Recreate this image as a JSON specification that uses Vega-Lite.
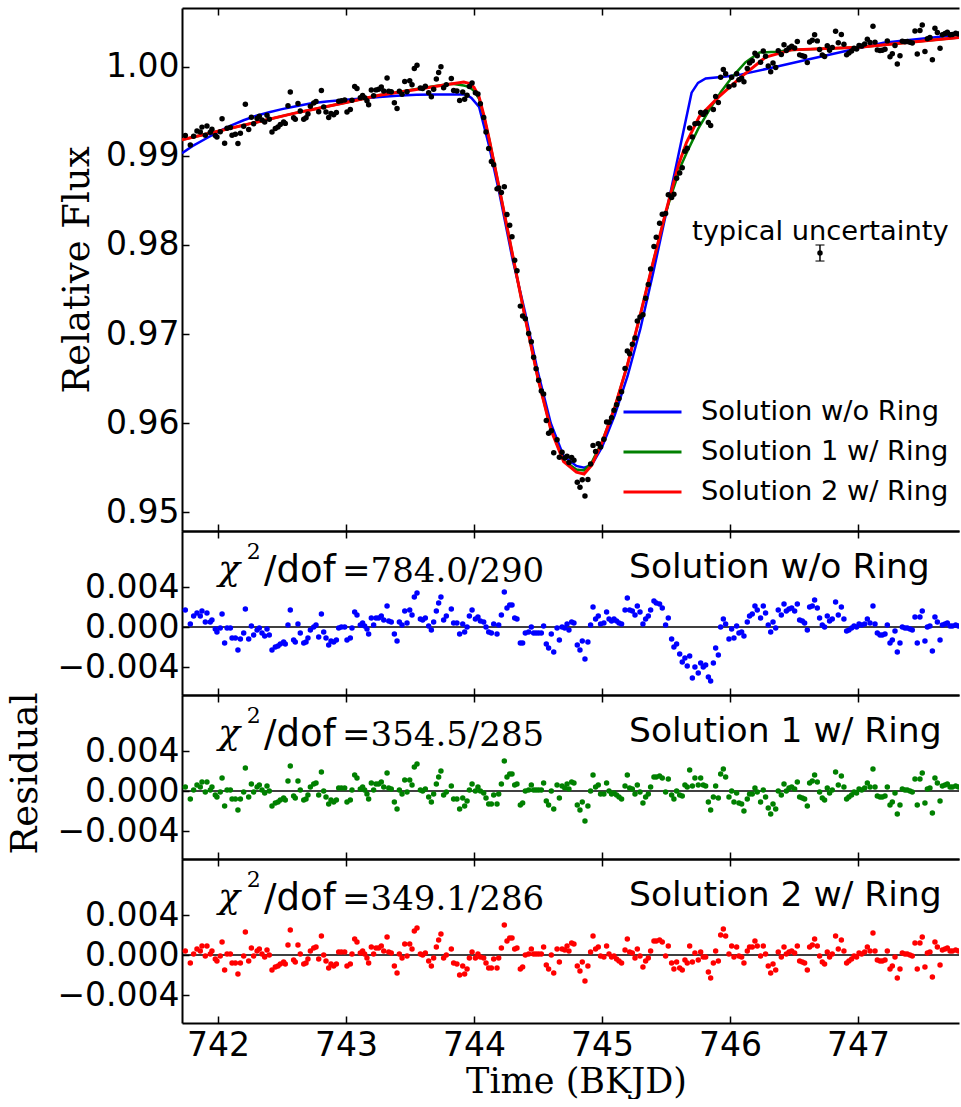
{
  "$schema": "https://vega.github.io/schema/vega-lite/v6.json",
  "background": "white",
  "padding": {"left": 6, "top": 7, "right": 0, "bottom": 0},
  "spacing": 0,
  "bounds": "flush",
  "config": {
    "view": {"stroke": null},
    "axis": {
      "domain": true, "domainColor": "black", "domainWidth": 2,
      "grid": false,
      "tickColor": "black", "tickWidth": 1.5, "tickSize": -7,
      "labelFont": "DejaVu Sans", "labelFontSize": 33, "labelColor": "black",
      "titleFont": "DejaVu Serif", "titleFontSize": 37, "titleFontWeight": "normal", "titleColor": "black"
    }
  },
  "datasets": {
    "obs": [
      {"t":741.745,"f":0.99229,"r0":0.0017,"r1":0.0004,"r2":0.0004},
      {"t":741.784,"f":0.99122,"r0":0.0003,"r1":-0.0008,"r2":-0.0008},
      {"t":741.81,"f":0.99221,"r0":0.0011,"r1":0.0001,"r2":0.0001},
      {"t":741.836,"f":0.9928,"r0":0.0014,"r1":0.0006,"r2":0.0006},
      {"t":741.862,"f":0.99268,"r0":0.0011,"r1":0.0004,"r2":0.0004},
      {"t":741.875,"f":0.99323,"r0":0.0016,"r1":0.0009,"r2":0.0009},
      {"t":741.901,"f":0.99232,"r0":0.0005,"r1":-0.0001,"r2":-0.0001},
      {"t":741.914,"f":0.99336,"r0":0.0014,"r1":0.0009,"r2":0.0009},
      {"t":741.94,"f":0.99265,"r0":0.0005,"r1":0.0001,"r2":0.0001},
      {"t":741.953,"f":0.99299,"r0":0.0007,"r1":0.0004,"r2":0.0004},
      {"t":741.979,"f":0.99228,"r0":-0.0002,"r1":-0.0004,"r2":-0.0004},
      {"t":741.992,"f":0.99213,"r0":-0.0005,"r1":-0.0006,"r2":-0.0006},
      {"t":742.018,"f":0.99272,"r0":-0.0001,"r1":-0.0001,"r2":-0.0001},
      {"t":742.032,"f":0.99416,"r0":0.0013,"r1":0.0013,"r2":0.0013},
      {"t":742.052,"f":0.99143,"r0":-0.0016,"r1":-0.0015,"r2":-0.0015},
      {"t":742.071,"f":0.9931,"r0":-0.0001,"r1":0.0001,"r2":0.0001},
      {"t":742.097,"f":0.99319,"r0":-0.0001,"r1":0.0001,"r2":0.0001},
      {"t":742.11,"f":0.99233,"r0":-0.0011,"r1":-0.0008,"r2":-0.0008},
      {"t":742.136,"f":0.99242,"r0":-0.0011,"r1":-0.0008,"r2":-0.0008},
      {"t":742.156,"f":0.99139,"r0":-0.0023,"r1":-0.0019,"r2":-0.0019},
      {"t":742.175,"f":0.99255,"r0":-0.0012,"r1":-0.0008,"r2":-0.0008},
      {"t":742.201,"f":0.99334,"r0":-0.0006,"r1":-0.0001,"r2":-0.0001},
      {"t":742.214,"f":0.99579,"r0":0.0018,"r1":0.0023,"r2":0.0023},
      {"t":742.24,"f":0.99297,"r0":-0.0012,"r1":-0.0006,"r2":-0.0006},
      {"t":742.261,"f":0.99434,"r0":0.0001,"r1":0.0007,"r2":0.0007},
      {"t":742.279,"f":0.99361,"r0":-0.0008,"r1":-0.0001,"r2":-0.0001},
      {"t":742.305,"f":0.99419,"r0":-0.0003,"r1":0.0004,"r2":0.0004},
      {"t":742.323,"f":0.99446,"r0":-0.0001,"r1":0.0006,"r2":0.0006},
      {"t":742.344,"f":0.99403,"r0":-0.0006,"r1":0.0001,"r2":0.0001},
      {"t":742.365,"f":0.9938,"r0":-0.0009,"r1":-0.0002,"r2":-0.0002},
      {"t":742.383,"f":0.99456,"r0":-0.0002,"r1":0.0005,"r2":0.0005},
      {"t":742.401,"f":0.99412,"r0":-0.0008,"r1":0.0,"r2":0.0},
      {"t":742.422,"f":0.99269,"r0":-0.0023,"r1":-0.0015,"r2":-0.0015},
      {"t":742.448,"f":0.99308,"r0":-0.002,"r1":-0.0012,"r2":-0.0012},
      {"t":742.469,"f":0.99325,"r0":-0.0019,"r1":-0.0011,"r2":-0.0011},
      {"t":742.487,"f":0.99352,"r0":-0.0017,"r1":-0.0009,"r2":-0.0009},
      {"t":742.513,"f":0.9938,"r0":-0.0015,"r1":-0.0007,"r2":-0.0007},
      {"t":742.526,"f":0.99365,"r0":-0.0017,"r1":-0.0009,"r2":-0.0009},
      {"t":742.547,"f":0.99562,"r0":0.0002,"r1":0.001,"r2":0.001},
      {"t":742.565,"f":0.99718,"r0":0.0017,"r1":0.0025,"r2":0.0025},
      {"t":742.591,"f":0.99427,"r0":-0.0013,"r1":-0.0005,"r2":-0.0005},
      {"t":742.604,"f":0.99411,"r0":-0.0015,"r1":-0.0007,"r2":-0.0007},
      {"t":742.625,"f":0.99588,"r0":0.0003,"r1":0.001,"r2":0.001},
      {"t":742.643,"f":0.99503,"r0":-0.0006,"r1":0.0001,"r2":0.0001},
      {"t":742.67,"f":0.99411,"r0":-0.0016,"r1":-0.0009,"r2":-0.0009},
      {"t":742.688,"f":0.99427,"r0":-0.0015,"r1":-0.0008,"r2":-0.0008},
      {"t":742.703,"f":0.99471,"r0":-0.0011,"r1":-0.0004,"r2":-0.0004},
      {"t":742.722,"f":0.99557,"r0":-0.0003,"r1":0.0004,"r2":0.0004},
      {"t":742.748,"f":0.99595,"r0":0.0,"r1":0.0007,"r2":0.0007},
      {"t":742.766,"f":0.9961,"r0":0.0002,"r1":0.0008,"r2":0.0008},
      {"t":742.787,"f":0.99496,"r0":-0.001,"r1":-0.0004,"r2":-0.0004},
      {"t":742.808,"f":0.99733,"r0":0.0013,"r1":0.0019,"r2":0.0019},
      {"t":742.826,"f":0.99548,"r0":-0.0005,"r1":0.0,"r2":0.0},
      {"t":742.844,"f":0.99493,"r0":-0.0011,"r1":-0.0006,"r2":-0.0006},
      {"t":742.865,"f":0.9943,"r0":-0.0018,"r1":-0.0013,"r2":-0.0013},
      {"t":742.883,"f":0.99475,"r0":-0.0014,"r1":-0.0009,"r2":-0.0009},
      {"t":742.904,"f":0.99461,"r0":-0.0015,"r1":-0.0011,"r2":-0.0011},
      {"t":742.925,"f":0.99487,"r0":-0.0013,"r1":-0.0009,"r2":-0.0009},
      {"t":742.943,"f":0.99613,"r0":-0.0001,"r1":0.0003,"r2":0.0003},
      {"t":742.964,"f":0.99619,"r0":0.0,"r1":0.0003,"r2":0.0003},
      {"t":742.99,"f":0.99627,"r0":0.0,"r1":0.0003,"r2":0.0003},
      {"t":743.008,"f":0.99492,"r0":-0.0013,"r1":-0.0011,"r2":-0.0011},
      {"t":743.034,"f":0.9952,"r0":-0.0011,"r1":-0.0009,"r2":-0.0009},
      {"t":743.047,"f":0.99624,"r0":-0.0001,"r1":0.0001,"r2":0.0001},
      {"t":743.068,"f":0.9978,"r0":0.0015,"r1":0.0016,"r2":0.0016},
      {"t":743.086,"f":0.99756,"r0":0.0012,"r1":0.0013,"r2":0.0013},
      {"t":743.112,"f":0.99654,"r0":0.0002,"r1":0.0002,"r2":0.0002},
      {"t":743.13,"f":0.99679,"r0":0.0004,"r1":0.0004,"r2":0.0004},
      {"t":743.146,"f":0.99654,"r0":0.0001,"r1":0.0001,"r2":0.0001},
      {"t":743.164,"f":0.99619,"r0":-0.0002,"r1":-0.0003,"r2":-0.0003},
      {"t":743.177,"f":0.99573,"r0":-0.0007,"r1":-0.0008,"r2":-0.0008},
      {"t":743.198,"f":0.9974,"r0":0.0009,"r1":0.0008,"r2":0.0008},
      {"t":743.216,"f":0.99675,"r0":0.0002,"r1":0.0001,"r2":0.0001},
      {"t":743.235,"f":0.99741,"r0":0.0009,"r1":0.0007,"r2":0.0007},
      {"t":743.255,"f":0.99747,"r0":0.0009,"r1":0.0007,"r2":0.0007},
      {"t":743.276,"f":0.99774,"r0":0.0011,"r1":0.0009,"r2":0.0009},
      {"t":743.295,"f":0.99728,"r0":0.0007,"r1":0.0004,"r2":0.0004},
      {"t":743.321,"f":0.99874,"r0":0.0021,"r1":0.0018,"r2":0.0018},
      {"t":743.334,"f":0.99727,"r0":0.0006,"r1":0.0003,"r2":0.0003},
      {"t":743.354,"f":0.99721,"r0":0.0005,"r1":0.0002,"r2":0.0002},
      {"t":743.378,"f":0.99597,"r0":-0.0007,"r1":-0.0011,"r2":-0.0011},
      {"t":743.399,"f":0.99532,"r0":-0.0014,"r1":-0.0018,"r2":-0.0018},
      {"t":743.417,"f":0.99726,"r0":0.0005,"r1":0.0001,"r2":0.0001},
      {"t":743.438,"f":0.99691,"r0":0.0002,"r1":-0.0003,"r2":-0.0003},
      {"t":743.459,"f":0.99835,"r0":0.0016,"r1":0.0011,"r2":0.0011},
      {"t":743.477,"f":0.9972,"r0":0.0004,"r1":-0.0001,"r2":-0.0001},
      {"t":743.498,"f":0.99844,"r0":0.0017,"r1":0.0011,"r2":0.0011},
      {"t":743.516,"f":0.99798,"r0":0.0012,"r1":0.0006,"r2":0.0006},
      {"t":743.534,"f":0.99982,"r0":0.003,"r1":0.0024,"r2":0.0024},
      {"t":743.555,"f":1.00017,"r0":0.0034,"r1":0.0027,"r2":0.0027},
      {"t":743.581,"f":0.99763,"r0":0.0008,"r1":0.0001,"r2":0.0001},
      {"t":743.599,"f":0.99757,"r0":0.0007,"r1":0.0,"r2":0.0},
      {"t":743.62,"f":0.99782,"r0":0.0009,"r1":0.0002,"r2":0.0002},
      {"t":743.646,"f":0.99708,"r0":0.0001,"r1":-0.0006,"r2":-0.0006},
      {"t":743.667,"f":0.99663,"r0":-0.0003,"r1":-0.0011,"r2":-0.0011},
      {"t":743.685,"f":0.99747,"r0":0.0005,"r1":-0.0003,"r2":-0.0003},
      {"t":743.706,"f":0.99862,"r0":0.0016,"r1":0.0007,"r2":0.0008},
      {"t":743.724,"f":0.99936,"r0":0.0024,"r1":0.0014,"r2":0.0015},
      {"t":743.742,"f":1.0,"r0":0.003,"r1":0.002,"r2":0.0021},
      {"t":743.763,"f":0.99765,"r0":0.0007,"r1":-0.0004,"r2":-0.0003},
      {"t":743.784,"f":0.998,"r0":0.0011,"r1":-0.0001,"r2":0.0},
      {"t":743.823,"f":0.99869,"r0":0.0018,"r1":0.0005,"r2":0.0006},
      {"t":743.841,"f":0.99733,"r0":0.0004,"r1":-0.0008,"r2":-0.0008},
      {"t":743.867,"f":0.99728,"r0":0.0004,"r1":-0.0008,"r2":-0.0009},
      {"t":743.888,"f":0.99623,"r0":-0.0007,"r1":-0.0018,"r2":-0.002},
      {"t":743.912,"f":0.99718,"r0":0.0003,"r1":-0.0007,"r2":-0.0011},
      {"t":743.927,"f":0.99637,"r0":-0.0005,"r1":-0.0015,"r2":-0.0019},
      {"t":743.946,"f":0.9968,"r0":0.0,"r1":-0.001,"r2":-0.0014},
      {"t":743.964,"f":0.9978,"r0":0.0011,"r1":0.0001,"r2":-0.0003},
      {"t":743.985,"f":0.99817,"r0":0.0017,"r1":0.0007,"r2":0.0003},
      {"t":744.011,"f":0.9971,"r0":0.0008,"r1":0.0,"r2":-0.0003},
      {"t":744.031,"f":0.99695,"r0":0.001,"r1":0.0004,"r2":0.0001},
      {"t":744.05,"f":0.99585,"r0":0.0006,"r1":0.0,"r2":-0.0002},
      {"t":744.076,"f":0.99432,"r0":0.0005,"r1":-0.0002,"r2":-0.0003},
      {"t":744.094,"f":0.99269,"r0":0.0,"r1":-0.0007,"r2":-0.0008},
      {"t":744.115,"f":0.99082,"r0":-0.0005,"r1":-0.0013,"r2":-0.0013},
      {"t":744.136,"f":0.98938,"r0":-0.0006,"r1":-0.0013,"r2":-0.0013},
      {"t":744.154,"f":0.98902,"r0":0.0003,"r1":-0.0004,"r2":-0.0004},
      {"t":744.18,"f":0.9863,"r0":-0.0007,"r1":-0.0013,"r2":-0.0013},
      {"t":744.193,"f":0.98639,"r0":0.0002,"r1":-0.0003,"r2":-0.0003},
      {"t":744.214,"f":0.98589,"r0":0.0012,"r1":0.0007,"r2":0.0007},
      {"t":744.237,"f":0.98654,"r0":0.0035,"r1":0.003,"r2":0.003},
      {"t":744.258,"f":0.98342,"r0":0.0019,"r1":0.0014,"r2":0.0014},
      {"t":744.279,"f":0.98221,"r0":0.0022,"r1":0.0017,"r2":0.0017},
      {"t":744.297,"f":0.98092,"r0":0.0022,"r1":0.0017,"r2":0.0017},
      {"t":744.318,"f":0.9783,"r0":0.0009,"r1":0.0006,"r2":0.0006},
      {"t":744.336,"f":0.97711,"r0":0.0008,"r1":0.0007,"r2":0.0007},
      {"t":744.362,"f":0.97314,"r0":-0.0016,"r1":-0.0014,"r2":-0.0014},
      {"t":744.38,"f":0.97204,"r0":-0.0016,"r1":-0.0012,"r2":-0.0012},
      {"t":744.401,"f":0.97173,"r0":-0.0006,"r1":0.0,"r2":0.0},
      {"t":744.427,"f":0.97006,"r0":-0.0005,"r1":0.0001,"r2":0.0001},
      {"t":744.448,"f":0.96914,"r0":0.0,"r1":0.0006,"r2":0.0006},
      {"t":744.466,"f":0.96741,"r0":-0.0006,"r1":0.0001,"r2":0.0001},
      {"t":744.485,"f":0.96612,"r0":-0.0006,"r1":0.0001,"r2":0.0001},
      {"t":744.505,"f":0.96482,"r0":-0.0006,"r1":0.0001,"r2":0.0001},
      {"t":744.526,"f":0.96362,"r0":-0.0006,"r1":0.0001,"r2":0.0001},
      {"t":744.544,"f":0.96329,"r0":0.0001,"r1":0.0008,"r2":0.0008},
      {"t":744.565,"f":0.96029,"r0":-0.0017,"r1":-0.001,"r2":-0.001},
      {"t":744.583,"f":0.95887,"r0":-0.0021,"r1":-0.0014,"r2":-0.0014},
      {"t":744.604,"f":0.95916,"r0":-0.0007,"r1":0.0,"r2":0.0},
      {"t":744.623,"f":0.95667,"r0":-0.0025,"r1":-0.0018,"r2":-0.0018},
      {"t":744.649,"f":0.95814,"r0":-0.0001,"r1":0.0006,"r2":0.0006},
      {"t":744.667,"f":0.95619,"r0":-0.0013,"r1":-0.0007,"r2":-0.0007},
      {"t":744.688,"f":0.95673,"r0":0.0,"r1":0.0005,"r2":0.0006},
      {"t":744.709,"f":0.95609,"r0":-0.0001,"r1":0.0003,"r2":0.0005},
      {"t":744.727,"f":0.95628,"r0":0.0003,"r1":0.0007,"r2":0.0009},
      {"t":744.742,"f":0.9556,"r0":-0.0003,"r1":0.0002,"r2":0.0004},
      {"t":744.763,"f":0.95614,"r0":0.0005,"r1":0.0009,"r2":0.0012},
      {"t":744.781,"f":0.95583,"r0":0.0004,"r1":0.0008,"r2":0.0011},
      {"t":744.807,"f":0.95338,"r0":-0.0018,"r1":-0.0014,"r2":-0.0011},
      {"t":744.828,"f":0.95281,"r0":-0.0023,"r1":-0.0019,"r2":-0.0016},
      {"t":744.846,"f":0.95365,"r0":-0.0014,"r1":-0.0011,"r2":-0.0007},
      {"t":744.867,"f":0.95182,"r0":-0.0032,"r1":-0.003,"r2":-0.0026},
      {"t":744.89,"f":0.95367,"r0":-0.0015,"r1":-0.0015,"r2":-0.0011},
      {"t":744.911,"f":0.95542,"r0":0.0002,"r1":0.0,"r2":0.0003},
      {"t":744.93,"f":0.95751,"r0":0.002,"r1":0.0016,"r2":0.0019},
      {"t":744.95,"f":0.95683,"r0":0.0008,"r1":0.0004,"r2":0.0006},
      {"t":744.971,"f":0.95768,"r0":0.0011,"r1":0.0006,"r2":0.0008},
      {"t":744.989,"f":0.95734,"r0":0.0003,"r1":-0.0003,"r2":-0.0001},
      {"t":745.015,"f":0.9582,"r0":0.0004,"r1":-0.0003,"r2":-0.0002},
      {"t":745.036,"f":0.96014,"r0":0.0015,"r1":0.0008,"r2":0.0009},
      {"t":745.055,"f":0.9601,"r0":0.0008,"r1":0.0,"r2":0.0001},
      {"t":745.075,"f":0.9606,"r0":0.0006,"r1":-0.0003,"r2":-0.0002},
      {"t":745.094,"f":0.96146,"r0":0.0008,"r1":-0.0002,"r2":-0.0001},
      {"t":745.114,"f":0.96207,"r0":0.0006,"r1":-0.0004,"r2":-0.0004},
      {"t":745.133,"f":0.96278,"r0":0.0004,"r1":-0.0006,"r2":-0.0006},
      {"t":745.153,"f":0.96354,"r0":0.0003,"r1":-0.0008,"r2":-0.0008},
      {"t":745.18,"f":0.96614,"r0":0.0017,"r1":0.0005,"r2":0.0005},
      {"t":745.198,"f":0.9681,"r0":0.0029,"r1":0.0016,"r2":0.0016},
      {"t":745.216,"f":0.9678,"r0":0.0017,"r1":0.0003,"r2":0.0003},
      {"t":745.237,"f":0.96887,"r0":0.0016,"r1":0.0002,"r2":0.0002},
      {"t":745.258,"f":0.96955,"r0":0.0012,"r1":-0.0003,"r2":-0.0003},
      {"t":745.276,"f":0.97146,"r0":0.0021,"r1":0.0006,"r2":0.0006},
      {"t":745.297,"f":0.97193,"r0":0.0015,"r1":-0.0001,"r2":-0.0001},
      {"t":745.32,"f":0.97218,"r0":0.0003,"r1":-0.0012,"r2":-0.0012},
      {"t":745.341,"f":0.97402,"r0":0.0008,"r1":-0.0006,"r2":-0.0006},
      {"t":745.362,"f":0.97556,"r0":0.0011,"r1":-0.0003,"r2":-0.0003},
      {"t":745.38,"f":0.97732,"r0":0.0017,"r1":0.0004,"r2":0.0004},
      {"t":745.406,"f":0.97984,"r0":0.0026,"r1":0.0014,"r2":0.0014},
      {"t":745.424,"f":0.98087,"r0":0.0024,"r1":0.0014,"r2":0.0014},
      {"t":745.45,"f":0.98245,"r0":0.0023,"r1":0.0015,"r2":0.0015},
      {"t":745.471,"f":0.98345,"r0":0.0019,"r1":0.0013,"r2":0.0013},
      {"t":745.497,"f":0.98353,"r0":0.0002,"r1":-0.0001,"r2":-0.0001},
      {"t":745.518,"f":0.98565,"r0":0.0009,"r1":0.0012,"r2":0.0009},
      {"t":745.544,"f":0.98533,"r0":-0.0012,"r1":-0.0004,"r2":-0.0008},
      {"t":745.562,"f":0.98569,"r0":-0.002,"r1":-0.0008,"r2":-0.0014},
      {"t":745.583,"f":0.9875,"r0":-0.0017,"r1":0.0,"r2":-0.0007},
      {"t":745.607,"f":0.98808,"r0":-0.0027,"r1":-0.0004,"r2":-0.0013},
      {"t":745.627,"f":0.98868,"r0":-0.0035,"r1":-0.0005,"r2":-0.0015},
      {"t":745.648,"f":0.99052,"r0":-0.0031,"r1":0.0006,"r2":-0.0005},
      {"t":745.666,"f":0.99087,"r0":-0.0039,"r1":0.0004,"r2":-0.0008},
      {"t":745.685,"f":0.99313,"r0":-0.0029,"r1":0.0021,"r2":0.0009},
      {"t":745.706,"f":0.99213,"r0":-0.0051,"r1":0.0005,"r2":-0.0007},
      {"t":745.726,"f":0.99361,"r0":-0.004,"r1":0.0013,"r2":0.0002},
      {"t":745.752,"f":0.99367,"r0":-0.0046,"r1":0.0006,"r2":-0.0005},
      {"t":745.771,"f":0.99486,"r0":-0.0036,"r1":0.0013,"r2":0.0003},
      {"t":745.791,"f":0.99466,"r0":-0.004,"r1":0.0006,"r2":-0.0002},
      {"t":745.81,"f":0.99493,"r0":-0.0038,"r1":0.0005,"r2":-0.0002},
      {"t":745.831,"f":0.99374,"r0":-0.005,"r1":-0.0011,"r2":-0.0017},
      {"t":745.849,"f":0.99341,"r0":-0.0054,"r1":-0.0019,"r2":-0.0023},
      {"t":745.87,"f":0.99521,"r0":-0.0036,"r1":-0.0006,"r2":-0.0008},
      {"t":745.888,"f":0.99668,"r0":-0.0021,"r1":0.0005,"r2":0.0004},
      {"t":745.909,"f":0.99599,"r0":-0.0028,"r1":-0.0007,"r2":-0.0006},
      {"t":745.927,"f":0.99882,"r0":0.0,"r1":0.0017,"r2":0.002},
      {"t":745.948,"f":0.99969,"r0":0.0008,"r1":0.0022,"r2":0.0026},
      {"t":745.966,"f":0.99922,"r0":0.0003,"r1":0.0014,"r2":0.0019},
      {"t":745.992,"f":0.99775,"r0":-0.0012,"r1":-0.0006,"r2":0.0001},
      {"t":746.013,"f":0.99882,"r0":-0.0002,"r1":0.0,"r2":0.0009},
      {"t":746.031,"f":0.99795,"r0":-0.0011,"r1":-0.0011,"r2":-0.0002},
      {"t":746.052,"f":0.99921,"r0":0.0001,"r1":-0.0002,"r2":0.0008},
      {"t":746.07,"f":0.99854,"r0":-0.0006,"r1":-0.0012,"r2":-0.0001},
      {"t":746.091,"f":0.99871,"r0":-0.0005,"r1":-0.0013,"r2":-0.0002},
      {"t":746.109,"f":0.99832,"r0":-0.0009,"r1":-0.002,"r2":-0.0008},
      {"t":746.135,"f":0.99982,"r0":0.0005,"r1":-0.0008,"r2":0.0004},
      {"t":746.153,"f":1.00043,"r0":0.0011,"r1":-0.0003,"r2":0.0008},
      {"t":746.174,"f":1.00067,"r0":0.0013,"r1":-0.0003,"r2":0.0008},
      {"t":746.195,"f":1.00152,"r0":0.0021,"r1":0.0003,"r2":0.0014},
      {"t":746.213,"f":1.00123,"r0":0.0017,"r1":-0.0001,"r2":0.0009},
      {"t":746.239,"f":1.00052,"r0":0.0009,"r1":-0.0011,"r2":-0.0001},
      {"t":746.26,"f":1.00177,"r0":0.0021,"r1":0.0001,"r2":0.0009},
      {"t":746.278,"f":1.00118,"r0":0.0014,"r1":-0.0006,"r2":0.0001},
      {"t":746.299,"f":1.00008,"r0":0.0002,"r1":-0.0017,"r2":-0.0011},
      {"t":746.318,"f":0.99945,"r0":-0.0005,"r1":-0.0023,"r2":-0.0018},
      {"t":746.336,"f":1.00042,"r0":0.0005,"r1":-0.0013,"r2":-0.0009},
      {"t":746.357,"f":0.99991,"r0":-0.0001,"r1":-0.0018,"r2":-0.0015},
      {"t":746.377,"f":1.00179,"r0":0.0017,"r1":0.0,"r2":0.0003},
      {"t":746.401,"f":1.00138,"r0":0.0012,"r1":-0.0004,"r2":-0.0002},
      {"t":746.422,"f":1.00247,"r0":0.0023,"r1":0.0007,"r2":0.0008},
      {"t":746.44,"f":1.00184,"r0":0.0016,"r1":0.0,"r2":0.0001},
      {"t":746.461,"f":1.00212,"r0":0.0018,"r1":0.0003,"r2":0.0003},
      {"t":746.482,"f":1.0023,"r0":0.0019,"r1":0.0004,"r2":0.0004},
      {"t":746.505,"f":1.00211,"r0":0.0016,"r1":0.0002,"r2":0.0002},
      {"t":746.526,"f":1.00283,"r0":0.0023,"r1":0.0009,"r2":0.0009},
      {"t":746.544,"f":1.00134,"r0":0.0007,"r1":-0.0006,"r2":-0.0006},
      {"t":746.565,"f":1.00125,"r0":0.0006,"r1":-0.0007,"r2":-0.0007},
      {"t":746.583,"f":1.00116,"r0":0.0004,"r1":-0.0008,"r2":-0.0008},
      {"t":746.604,"f":1.00047,"r0":-0.0003,"r1":-0.0015,"r2":-0.0015},
      {"t":746.622,"f":1.00278,"r0":0.002,"r1":0.0008,"r2":0.0008},
      {"t":746.643,"f":1.00299,"r0":0.0021,"r1":0.001,"r2":0.001},
      {"t":746.661,"f":1.0036,"r0":0.0027,"r1":0.0016,"r2":0.0016},
      {"t":746.682,"f":1.00291,"r0":0.0019,"r1":0.0009,"r2":0.0009},
      {"t":746.7,"f":1.00193,"r0":0.0009,"r1":-0.0001,"r2":-0.0001},
      {"t":746.721,"f":1.00134,"r0":0.0002,"r1":-0.0007,"r2":-0.0007},
      {"t":746.739,"f":1.00115,"r0":0.0,"r1":-0.0009,"r2":-0.0009},
      {"t":746.76,"f":1.00236,"r0":0.0011,"r1":0.0003,"r2":0.0003},
      {"t":746.778,"f":1.00187,"r0":0.0006,"r1":-0.0002,"r2":-0.0002},
      {"t":746.799,"f":1.00218,"r0":0.0008,"r1":0.0001,"r2":0.0001},
      {"t":746.825,"f":1.004,"r0":0.0025,"r1":0.0019,"r2":0.0019},
      {"t":746.846,"f":1.00271,"r0":0.0012,"r1":0.0006,"r2":0.0006},
      {"t":746.87,"f":1.00362,"r0":0.002,"r1":0.0015,"r2":0.0015},
      {"t":746.89,"f":1.00253,"r0":0.0008,"r1":0.0004,"r2":0.0004},
      {"t":746.911,"f":1.00134,"r0":-0.0004,"r1":-0.0008,"r2":-0.0008},
      {"t":746.929,"f":1.00155,"r0":-0.0003,"r1":-0.0006,"r2":-0.0006},
      {"t":746.95,"f":1.00177,"r0":-0.0001,"r1":-0.0004,"r2":-0.0004},
      {"t":746.969,"f":1.00208,"r0":0.0001,"r1":-0.0001,"r2":-0.0001},
      {"t":746.989,"f":1.00199,"r0":0.0,"r1":-0.0002,"r2":-0.0002},
      {"t":747.008,"f":1.0024,"r0":0.0003,"r1":0.0002,"r2":0.0002},
      {"t":747.029,"f":1.00233,"r0":0.0002,"r1":0.0001,"r2":0.0001},
      {"t":747.052,"f":1.00256,"r0":0.0003,"r1":0.0003,"r2":0.0003},
      {"t":747.073,"f":1.00309,"r0":0.0008,"r1":0.0008,"r2":0.0008},
      {"t":747.094,"f":1.00272,"r0":0.0004,"r1":0.0004,"r2":0.0004},
      {"t":747.117,"f":1.00455,"r0":0.0021,"r1":0.0022,"r2":0.0022},
      {"t":747.133,"f":1.00277,"r0":0.0003,"r1":0.0004,"r2":0.0004},
      {"t":747.151,"f":1.0019,"r0":-0.0006,"r1":-0.0005,"r2":-0.0005},
      {"t":747.172,"f":1.00183,"r0":-0.0008,"r1":-0.0006,"r2":-0.0006},
      {"t":747.19,"f":1.00185,"r0":-0.0008,"r1":-0.0006,"r2":-0.0006},
      {"t":747.211,"f":1.00198,"r0":-0.0007,"r1":-0.0005,"r2":-0.0005},
      {"t":747.229,"f":1.00291,"r0":0.0002,"r1":0.0004,"r2":0.0004},
      {"t":747.25,"f":1.00114,"r0":-0.0016,"r1":-0.0014,"r2":-0.0014},
      {"t":747.268,"f":1.00146,"r0":-0.0013,"r1":-0.0011,"r2":-0.0011},
      {"t":747.289,"f":1.00239,"r0":-0.0004,"r1":-0.0002,"r2":-0.0002},
      {"t":747.307,"f":1.00032,"r0":-0.0025,"r1":-0.0023,"r2":-0.0023},
      {"t":747.328,"f":1.00125,"r0":-0.0016,"r1":-0.0014,"r2":-0.0014},
      {"t":747.346,"f":1.00287,"r0":0.0,"r1":0.0002,"r2":0.0002},
      {"t":747.367,"f":1.0028,"r0":-0.0001,"r1":0.0001,"r2":0.0001},
      {"t":747.385,"f":1.00283,"r0":-0.0001,"r1":0.0001,"r2":0.0001},
      {"t":747.406,"f":1.00276,"r0":-0.0002,"r1":0.0,"r2":0.0},
      {"t":747.424,"f":1.00268,"r0":-0.0003,"r1":-0.0001,"r2":-0.0001},
      {"t":747.445,"f":1.00401,"r0":0.001,"r1":0.0012,"r2":0.0012},
      {"t":747.463,"f":1.00144,"r0":-0.0016,"r1":-0.0014,"r2":-0.0014},
      {"t":747.484,"f":1.00407,"r0":0.001,"r1":0.0012,"r2":0.0012},
      {"t":747.502,"f":1.00469,"r0":0.0016,"r1":0.0018,"r2":0.0018},
      {"t":747.523,"f":1.00172,"r0":-0.0014,"r1":-0.0012,"r2":-0.0012},
      {"t":747.542,"f":1.00315,"r0":0.0,"r1":0.0002,"r2":0.0002},
      {"t":747.562,"f":1.00328,"r0":0.0001,"r1":0.0003,"r2":0.0003},
      {"t":747.581,"f":1.0008,"r0":-0.0024,"r1":-0.0022,"r2":-0.0022},
      {"t":747.601,"f":1.00433,"r0":0.001,"r1":0.0013,"r2":0.0013},
      {"t":747.62,"f":1.00386,"r0":0.0005,"r1":0.0008,"r2":0.0008},
      {"t":747.641,"f":1.00209,"r0":-0.0013,"r1":-0.001,"r2":-0.001},
      {"t":747.659,"f":1.00361,"r0":0.0002,"r1":0.0005,"r2":0.0005},
      {"t":747.68,"f":1.00374,"r0":0.0003,"r1":0.0006,"r2":0.0006},
      {"t":747.698,"f":1.00387,"r0":0.0004,"r1":0.0007,"r2":0.0007},
      {"t":747.719,"f":1.0036,"r0":0.0001,"r1":0.0004,"r2":0.0004},
      {"t":747.737,"f":1.00362,"r0":0.0001,"r1":0.0004,"r2":0.0004},
      {"t":747.763,"f":1.00376,"r0":0.0002,"r1":0.0005,"r2":0.0005},
      {"t":747.784,"f":1.00369,"r0":0.0001,"r1":0.0004,"r2":0.0004}
    ],
    "models": [
      {"m":"Solution w/o Ring","t":741.719,"f":0.9903},
      {"m":"Solution w/o Ring","t":741.8,"f":0.9911},
      {"m":"Solution w/o Ring","t":741.9,"f":0.9919},
      {"m":"Solution w/o Ring","t":742.0,"f":0.9927},
      {"m":"Solution w/o Ring","t":742.1,"f":0.9934},
      {"m":"Solution w/o Ring","t":742.2,"f":0.994},
      {"m":"Solution w/o Ring","t":742.3,"f":0.9945},
      {"m":"Solution w/o Ring","t":742.4,"f":0.9949},
      {"m":"Solution w/o Ring","t":742.5,"f":0.99525},
      {"m":"Solution w/o Ring","t":742.6,"f":0.99555},
      {"m":"Solution w/o Ring","t":742.73,"f":0.9959},
      {"m":"Solution w/o Ring","t":742.85,"f":0.9961},
      {"m":"Solution w/o Ring","t":743.0,"f":0.9963},
      {"m":"Solution w/o Ring","t":743.13,"f":0.99645},
      {"m":"Solution w/o Ring","t":743.26,"f":0.9966},
      {"m":"Solution w/o Ring","t":743.4,"f":0.99675},
      {"m":"Solution w/o Ring","t":743.55,"f":0.99685},
      {"m":"Solution w/o Ring","t":743.7,"f":0.9969},
      {"m":"Solution w/o Ring","t":743.94,"f":0.9969},
      {"m":"Solution w/o Ring","t":743.98,"f":0.9965},
      {"m":"Solution w/o Ring","t":744.04,"f":0.9955},
      {"m":"Solution w/o Ring","t":744.12,"f":0.991},
      {"m":"Solution w/o Ring","t":744.2,"f":0.9857},
      {"m":"Solution w/o Ring","t":744.3,"f":0.9785},
      {"m":"Solution w/o Ring","t":744.4,"f":0.9724},
      {"m":"Solution w/o Ring","t":744.5,"f":0.9657},
      {"m":"Solution w/o Ring","t":744.6,"f":0.96},
      {"m":"Solution w/o Ring","t":744.7,"f":0.9563},
      {"m":"Solution w/o Ring","t":744.8,"f":0.9552},
      {"m":"Solution w/o Ring","t":744.86,"f":0.955},
      {"m":"Solution w/o Ring","t":744.92,"f":0.9553},
      {"m":"Solution w/o Ring","t":745.0,"f":0.9573},
      {"m":"Solution w/o Ring","t":745.1,"f":0.9609},
      {"m":"Solution w/o Ring","t":745.2,"f":0.9653},
      {"m":"Solution w/o Ring","t":745.3,"f":0.9706},
      {"m":"Solution w/o Ring","t":745.4,"f":0.9769},
      {"m":"Solution w/o Ring","t":745.5,"f":0.9835},
      {"m":"Solution w/o Ring","t":745.6,"f":0.9903},
      {"m":"Solution w/o Ring","t":745.7,"f":0.9971},
      {"m":"Solution w/o Ring","t":745.75,"f":0.9982},
      {"m":"Solution w/o Ring","t":745.81,"f":0.9987},
      {"m":"Solution w/o Ring","t":745.97,"f":0.9989},
      {"m":"Solution w/o Ring","t":746.09,"f":0.99915},
      {"m":"Solution w/o Ring","t":746.36,"f":1.0},
      {"m":"Solution w/o Ring","t":746.6,"f":1.0008},
      {"m":"Solution w/o Ring","t":747.01,"f":1.0021},
      {"m":"Solution w/o Ring","t":747.2,"f":1.0027},
      {"m":"Solution w/o Ring","t":747.4,"f":1.003},
      {"m":"Solution w/o Ring","t":747.789,"f":1.0036},
      {"m":"Solution 1 w/ Ring","t":741.719,"f":0.9918},
      {"m":"Solution 1 w/ Ring","t":742.0,"f":0.99276},
      {"m":"Solution 1 w/ Ring","t":742.3,"f":0.99378},
      {"m":"Solution 1 w/ Ring","t":742.6,"f":0.9948},
      {"m":"Solution 1 w/ Ring","t":742.73,"f":0.99519},
      {"m":"Solution 1 w/ Ring","t":743.0,"f":0.996},
      {"m":"Solution 1 w/ Ring","t":743.26,"f":0.9968},
      {"m":"Solution 1 w/ Ring","t":743.55,"f":0.9975},
      {"m":"Solution 1 w/ Ring","t":743.7,"f":0.99786},
      {"m":"Solution 1 w/ Ring","t":743.83,"f":0.99811},
      {"m":"Solution 1 w/ Ring","t":743.92,"f":0.9979},
      {"m":"Solution 1 w/ Ring","t":743.96,"f":0.99775},
      {"m":"Solution 1 w/ Ring","t":744.0,"f":0.9973},
      {"m":"Solution 1 w/ Ring","t":744.04,"f":0.9964},
      {"m":"Solution 1 w/ Ring","t":744.08,"f":0.9943},
      {"m":"Solution 1 w/ Ring","t":744.12,"f":0.9918},
      {"m":"Solution 1 w/ Ring","t":744.16,"f":0.989},
      {"m":"Solution 1 w/ Ring","t":744.2,"f":0.9862},
      {"m":"Solution 1 w/ Ring","t":744.3,"f":0.979},
      {"m":"Solution 1 w/ Ring","t":744.4,"f":0.9718},
      {"m":"Solution 1 w/ Ring","t":744.5,"f":0.965},
      {"m":"Solution 1 w/ Ring","t":744.6,"f":0.9594},
      {"m":"Solution 1 w/ Ring","t":744.7,"f":0.9558},
      {"m":"Solution 1 w/ Ring","t":744.8,"f":0.9548},
      {"m":"Solution 1 w/ Ring","t":744.86,"f":0.9547},
      {"m":"Solution 1 w/ Ring","t":744.92,"f":0.9556},
      {"m":"Solution 1 w/ Ring","t":745.0,"f":0.9579},
      {"m":"Solution 1 w/ Ring","t":745.1,"f":0.9618},
      {"m":"Solution 1 w/ Ring","t":745.2,"f":0.9666},
      {"m":"Solution 1 w/ Ring","t":745.3,"f":0.9722},
      {"m":"Solution 1 w/ Ring","t":745.4,"f":0.9781},
      {"m":"Solution 1 w/ Ring","t":745.5,"f":0.9837},
      {"m":"Solution 1 w/ Ring","t":745.55,"f":0.986},
      {"m":"Solution 1 w/ Ring","t":745.62,"f":0.989},
      {"m":"Solution 1 w/ Ring","t":745.66,"f":0.9903},
      {"m":"Solution 1 w/ Ring","t":745.75,"f":0.993},
      {"m":"Solution 1 w/ Ring","t":745.84,"f":0.9952},
      {"m":"Solution 1 w/ Ring","t":745.93,"f":0.9972},
      {"m":"Solution 1 w/ Ring","t":746.02,"f":0.9989},
      {"m":"Solution 1 w/ Ring","t":746.12,"f":1.0005},
      {"m":"Solution 1 w/ Ring","t":746.23,"f":1.0016},
      {"m":"Solution 1 w/ Ring","t":746.36,"f":1.0017},
      {"m":"Solution 1 w/ Ring","t":746.48,"f":1.0019},
      {"m":"Solution 1 w/ Ring","t":747.01,"f":1.0022},
      {"m":"Solution 1 w/ Ring","t":747.789,"f":1.0033},
      {"m":"Solution 2 w/ Ring","t":741.719,"f":0.9918},
      {"m":"Solution 2 w/ Ring","t":742.0,"f":0.99276},
      {"m":"Solution 2 w/ Ring","t":742.3,"f":0.99378},
      {"m":"Solution 2 w/ Ring","t":742.6,"f":0.9948},
      {"m":"Solution 2 w/ Ring","t":742.73,"f":0.99519},
      {"m":"Solution 2 w/ Ring","t":743.0,"f":0.996},
      {"m":"Solution 2 w/ Ring","t":743.26,"f":0.9968},
      {"m":"Solution 2 w/ Ring","t":743.55,"f":0.99746},
      {"m":"Solution 2 w/ Ring","t":743.78,"f":0.99798},
      {"m":"Solution 2 w/ Ring","t":743.92,"f":0.9983},
      {"m":"Solution 2 w/ Ring","t":743.96,"f":0.99815},
      {"m":"Solution 2 w/ Ring","t":744.0,"f":0.9977},
      {"m":"Solution 2 w/ Ring","t":744.04,"f":0.9966},
      {"m":"Solution 2 w/ Ring","t":744.08,"f":0.9944},
      {"m":"Solution 2 w/ Ring","t":744.12,"f":0.9918},
      {"m":"Solution 2 w/ Ring","t":744.16,"f":0.989},
      {"m":"Solution 2 w/ Ring","t":744.2,"f":0.9862},
      {"m":"Solution 2 w/ Ring","t":744.3,"f":0.979},
      {"m":"Solution 2 w/ Ring","t":744.4,"f":0.9718},
      {"m":"Solution 2 w/ Ring","t":744.5,"f":0.965},
      {"m":"Solution 2 w/ Ring","t":744.6,"f":0.9593},
      {"m":"Solution 2 w/ Ring","t":744.7,"f":0.9557},
      {"m":"Solution 2 w/ Ring","t":744.8,"f":0.9545},
      {"m":"Solution 2 w/ Ring","t":744.86,"f":0.9543},
      {"m":"Solution 2 w/ Ring","t":744.92,"f":0.9553},
      {"m":"Solution 2 w/ Ring","t":745.0,"f":0.9578},
      {"m":"Solution 2 w/ Ring","t":745.1,"f":0.9618},
      {"m":"Solution 2 w/ Ring","t":745.2,"f":0.9666},
      {"m":"Solution 2 w/ Ring","t":745.3,"f":0.9722},
      {"m":"Solution 2 w/ Ring","t":745.4,"f":0.9781},
      {"m":"Solution 2 w/ Ring","t":745.5,"f":0.9838},
      {"m":"Solution 2 w/ Ring","t":745.6,"f":0.9891},
      {"m":"Solution 2 w/ Ring","t":745.66,"f":0.9915},
      {"m":"Solution 2 w/ Ring","t":745.76,"f":0.9944},
      {"m":"Solution 2 w/ Ring","t":745.91,"f":0.9966},
      {"m":"Solution 2 w/ Ring","t":746.09,"f":0.9989},
      {"m":"Solution 2 w/ Ring","t":746.28,"f":1.0011},
      {"m":"Solution 2 w/ Ring","t":746.48,"f":1.0019},
      {"m":"Solution 2 w/ Ring","t":747.01,"f":1.0022},
      {"m":"Solution 2 w/ Ring","t":747.789,"f":1.0033}
    ]
  },
  "vconcat": [
    {
      "width": 777, "height": 523,
      "resolve": {"axis": {"x": "independent"}},
      "layer": [
        {
          "data": {"name": "models"},
          "transform": [{"filter": "datum.m == 'Solution w/o Ring'"}],
          "mark": {"type": "line", "strokeWidth": 2.5, "clip": true},
          "encoding": {
            "x": {"field": "t", "type": "quantitative", "scale": {"domain": [741.719, 747.789], "nice": false, "zero": false},
                  "axis": {"orient": "bottom", "values": [742, 743, 744, 745, 746, 747], "labels": false, "title": null}},
            "y": {"field": "f", "type": "quantitative", "scale": {"domain": [0.9479, 1.0066], "nice": false, "zero": false},
                  "axis": {"orient": "left", "values": [0.95, 0.96, 0.97, 0.98, 0.99, 1.0], "format": ".2f", "labelPadding": 10,
                           "title": "Relative Flux", "titleX": -105, "titleY": 261.5, "titleAngle": 270, "titleAlign": "center", "titleBaseline": "middle"}},
            "color": {"field": "m", "type": "nominal",
                      "scale": {"domain": ["Solution w/o Ring", "Solution 1 w/ Ring", "Solution 2 w/ Ring"], "range": ["#0000ff", "#008000", "#ff0000"]},
                      "legend": {"orient": "none", "legendX": 440, "legendY": 384, "title": null, "symbolType": "stroke", "symbolSize": 3364,
                                 "symbolStrokeWidth": 3, "labelFont": "DejaVu Sans", "labelFontSize": 27.3, "labelColor": "black",
                                 "labelOffset": 18, "clipHeight": 40, "rowPadding": 0, "padding": 0, "labelLimit": 400}}
          }
        },
        {
          "data": {"name": "models"},
          "transform": [{"filter": "datum.m == 'Solution 1 w/ Ring'"}],
          "mark": {"type": "line", "strokeWidth": 2.5, "clip": true},
          "encoding": {
            "x": {"field": "t", "type": "quantitative", "scale": {"domain": [741.719, 747.789], "nice": false, "zero": false}, "axis": null},
            "y": {"field": "f", "type": "quantitative", "scale": {"domain": [0.9479, 1.0066], "nice": false, "zero": false}},
            "color": {"field": "m", "type": "nominal"}
          }
        },
        {
          "data": {"name": "models"},
          "transform": [{"filter": "datum.m == 'Solution 2 w/ Ring'"}],
          "mark": {"type": "line", "strokeWidth": 3, "clip": true},
          "encoding": {
            "x": {"field": "t", "type": "quantitative", "scale": {"domain": [741.719, 747.789], "nice": false, "zero": false}, "axis": null},
            "y": {"field": "f", "type": "quantitative", "scale": {"domain": [0.9479, 1.0066], "nice": false, "zero": false}},
            "color": {"field": "m", "type": "nominal"}
          }
        },
        {
          "data": {"name": "obs"},
          "mark": {"type": "circle", "size": 30, "color": "black", "opacity": 1, "clip": true},
          "encoding": {
            "x": {"field": "t", "type": "quantitative", "scale": {"domain": [741.719, 747.789], "nice": false, "zero": false}, "axis": null},
            "y": {"field": "f", "type": "quantitative", "scale": {"domain": [0.9479, 1.0066], "nice": false, "zero": false}}
          }
        },
        {
          "data": {"values": [{}]},
          "mark": {"type": "text", "text": "typical uncertainty", "font": "DejaVu Sans", "fontSize": 27.3, "align": "left", "baseline": "alphabetic", "color": "black"},
          "encoding": {
            "x": {"datum": 745.703, "type": "quantitative", "axis": null},
            "y": {"datum": 0.98056, "type": "quantitative"}
          }
        },
        {
          "data": {"values": [{"t": 746.703, "f": 0.9791, "lo": 0.9782, "hi": 0.98}]},
          "mark": {"type": "rule", "color": "black", "strokeWidth": 1.5},
          "encoding": {
            "x": {"field": "t", "type": "quantitative", "scale": {"domain": [741.719, 747.789], "nice": false, "zero": false},
                  "axis": {"orient": "top", "values": [742, 743, 744, 745, 746, 747], "labels": false, "title": null}},
            "y": {"field": "lo", "type": "quantitative"},
            "y2": {"field": "hi"}
          }
        },
        {
          "data": {"values": [{"t": 746.703, "f": 0.9791, "lo": 0.9782, "hi": 0.98}]},
          "mark": {"type": "tick", "orient": "horizontal", "size": 9, "thickness": 1.5, "color": "black"},
          "encoding": {
            "x": {"field": "t", "type": "quantitative", "axis": null},
            "y": {"field": "lo", "type": "quantitative"}
          }
        },
        {
          "data": {"values": [{"t": 746.703, "f": 0.9791, "lo": 0.9782, "hi": 0.98}]},
          "mark": {"type": "tick", "orient": "horizontal", "size": 9, "thickness": 1.5, "color": "black"},
          "encoding": {
            "x": {"field": "t", "type": "quantitative", "axis": null},
            "y": {"field": "hi", "type": "quantitative"}
          }
        },
        {
          "data": {"values": [{"t": 746.703, "f": 0.9791, "lo": 0.9782, "hi": 0.98}]},
          "mark": {"type": "circle", "size": 30, "color": "black", "opacity": 1},
          "encoding": {
            "x": {"field": "t", "type": "quantitative", "axis": null},
            "y": {"field": "f", "type": "quantitative"}
          }
        }
      ]
    },
    {
      "width": 777, "height": 164,
      "resolve": {"axis": {"x": "independent"}},
      "layer": [
        {
          "data": {"values": [{}]},
          "mark": {"type": "rule", "color": "black", "strokeWidth": 1.5},
          "encoding": {"y": {"datum": 0, "type": "quantitative"}}
        },
        {
          "data": {"name": "obs"},
          "mark": {"type": "circle", "size": 30, "color": "#0000ff", "opacity": 1, "clip": true},
          "encoding": {
            "x": {"field": "t", "type": "quantitative", "scale": {"domain": [741.719, 747.789], "nice": false, "zero": false},
                  "axis": {"orient": "bottom", "values": [742, 743, 744, 745, 746, 747], "labels": false, "title": null}},
            "y": {"field": "r0", "type": "quantitative", "scale": {"domain": [-0.0068, 0.0096], "nice": false, "zero": false},
                  "axis": {"orient": "left", "values": [-0.004, 0, 0.004], "format": ".3f", "labelPadding": 10, "title": null}}
          }
        },
        {
          "data": {"values": [{}]},
          "mark": {"type": "text", "text": "χ", "font": "DejaVu Serif", "fontStyle": "italic", "fontSize": 36, "align": "left", "baseline": "alphabetic", "color": "black"},
          "encoding": {
            "x": {"datum": 742.003, "type": "quantitative", "axis": {"orient": "top", "values": [742, 743, 744, 745, 746, 747], "labels": false, "title": null}},
            "y": {"datum": 0.0047, "type": "quantitative"}
          }
        },
        {
          "data": {"values": [{}]},
          "mark": {"type": "text", "text": "2", "font": "DejaVu Serif", "fontSize": 22, "align": "left", "baseline": "alphabetic", "color": "black"},
          "encoding": {"x": {"datum": 742.225, "type": "quantitative", "axis": null}, "y": {"datum": 0.0068, "type": "quantitative"}}
        },
        {
          "data": {"values": [{}]},
          "mark": {"type": "text", "text": "/dof", "font": "DejaVu Sans", "fontSize": 37, "align": "left", "baseline": "alphabetic", "color": "black"},
          "encoding": {"x": {"datum": 742.36, "type": "quantitative", "axis": null}, "y": {"datum": 0.0045, "type": "quantitative"}}
        },
        {
          "data": {"values": [{}]},
          "mark": {"type": "text", "text": "=784.0/290", "font": "DejaVu Serif", "fontSize": 34, "align": "left", "baseline": "alphabetic", "color": "black"},
          "encoding": {"x": {"datum": 742.969, "type": "quantitative", "axis": null}, "y": {"datum": 0.0045, "type": "quantitative"}}
        },
        {
          "data": {"values": [{}]},
          "mark": {"type": "text", "text": "Solution w/o Ring", "font": "DejaVu Sans", "fontSize": 34.5, "align": "left", "baseline": "alphabetic", "color": "black"},
          "encoding": {"x": {"datum": 745.211, "type": "quantitative", "axis": null}, "y": {"datum": 0.0049, "type": "quantitative"}}
        }
      ]
    },
    {
      "width": 777, "height": 164,
      "resolve": {"axis": {"x": "independent"}},
      "layer": [
        {
          "data": {"values": [{}]},
          "mark": {"type": "rule", "color": "black", "strokeWidth": 1.5},
          "encoding": {"y": {"datum": 0, "type": "quantitative"}}
        },
        {
          "data": {"name": "obs"},
          "mark": {"type": "circle", "size": 30, "color": "#008000", "opacity": 1, "clip": true},
          "encoding": {
            "x": {"field": "t", "type": "quantitative", "scale": {"domain": [741.719, 747.789], "nice": false, "zero": false},
                  "axis": {"orient": "bottom", "values": [742, 743, 744, 745, 746, 747], "labels": false, "title": null}},
            "y": {"field": "r1", "type": "quantitative", "scale": {"domain": [-0.0068, 0.0096], "nice": false, "zero": false},
                  "axis": {"orient": "left", "values": [-0.004, 0, 0.004], "format": ".3f", "labelPadding": 10,
                           "title": "Residual", "titleX": -157, "titleY": 78, "titleAngle": 270, "titleAlign": "center", "titleBaseline": "middle"}}
          }
        },
        {
          "data": {"values": [{}]},
          "mark": {"type": "text", "text": "χ", "font": "DejaVu Serif", "fontStyle": "italic", "fontSize": 36, "align": "left", "baseline": "alphabetic", "color": "black"},
          "encoding": {
            "x": {"datum": 742.003, "type": "quantitative", "axis": {"orient": "top", "values": [742, 743, 744, 745, 746, 747], "labels": false, "title": null}},
            "y": {"datum": 0.0047, "type": "quantitative"}
          }
        },
        {
          "data": {"values": [{}]},
          "mark": {"type": "text", "text": "2", "font": "DejaVu Serif", "fontSize": 22, "align": "left", "baseline": "alphabetic", "color": "black"},
          "encoding": {"x": {"datum": 742.225, "type": "quantitative", "axis": null}, "y": {"datum": 0.0068, "type": "quantitative"}}
        },
        {
          "data": {"values": [{}]},
          "mark": {"type": "text", "text": "/dof", "font": "DejaVu Sans", "fontSize": 37, "align": "left", "baseline": "alphabetic", "color": "black"},
          "encoding": {"x": {"datum": 742.36, "type": "quantitative", "axis": null}, "y": {"datum": 0.0045, "type": "quantitative"}}
        },
        {
          "data": {"values": [{}]},
          "mark": {"type": "text", "text": "=354.5/285", "font": "DejaVu Serif", "fontSize": 34, "align": "left", "baseline": "alphabetic", "color": "black"},
          "encoding": {"x": {"datum": 742.969, "type": "quantitative", "axis": null}, "y": {"datum": 0.0045, "type": "quantitative"}}
        },
        {
          "data": {"values": [{}]},
          "mark": {"type": "text", "text": "Solution 1 w/ Ring", "font": "DejaVu Sans", "fontSize": 34.5, "align": "left", "baseline": "alphabetic", "color": "black"},
          "encoding": {"x": {"datum": 745.211, "type": "quantitative", "axis": null}, "y": {"datum": 0.0049, "type": "quantitative"}}
        }
      ]
    },
    {
      "width": 777, "height": 164,
      "resolve": {"axis": {"x": "independent"}},
      "layer": [
        {
          "data": {"values": [{}]},
          "mark": {"type": "rule", "color": "black", "strokeWidth": 1.5},
          "encoding": {"y": {"datum": 0, "type": "quantitative"}}
        },
        {
          "data": {"name": "obs"},
          "mark": {"type": "circle", "size": 30, "color": "#ff0000", "opacity": 1, "clip": true},
          "encoding": {
            "x": {"field": "t", "type": "quantitative", "scale": {"domain": [741.719, 747.789], "nice": false, "zero": false},
                  "axis": {"orient": "bottom", "values": [742, 743, 744, 745, 746, 747], "format": "d", "labelPadding": 13,
                           "title": "Time (BKJD)", "titleFontSize": 35, "titleX": 394, "titleY": 69, "titleAlign": "center", "titleBaseline": "alphabetic"}},
            "y": {"field": "r2", "type": "quantitative", "scale": {"domain": [-0.0068, 0.0096], "nice": false, "zero": false},
                  "axis": {"orient": "left", "values": [-0.004, 0, 0.004], "format": ".3f", "labelPadding": 10, "title": null}}
          }
        },
        {
          "data": {"values": [{}]},
          "mark": {"type": "text", "text": "χ", "font": "DejaVu Serif", "fontStyle": "italic", "fontSize": 36, "align": "left", "baseline": "alphabetic", "color": "black"},
          "encoding": {
            "x": {"datum": 742.003, "type": "quantitative", "axis": {"orient": "top", "values": [742, 743, 744, 745, 746, 747], "labels": false, "title": null}},
            "y": {"datum": 0.0047, "type": "quantitative"}
          }
        },
        {
          "data": {"values": [{}]},
          "mark": {"type": "text", "text": "2", "font": "DejaVu Serif", "fontSize": 22, "align": "left", "baseline": "alphabetic", "color": "black"},
          "encoding": {"x": {"datum": 742.225, "type": "quantitative", "axis": null}, "y": {"datum": 0.0068, "type": "quantitative"}}
        },
        {
          "data": {"values": [{}]},
          "mark": {"type": "text", "text": "/dof", "font": "DejaVu Sans", "fontSize": 37, "align": "left", "baseline": "alphabetic", "color": "black"},
          "encoding": {"x": {"datum": 742.36, "type": "quantitative", "axis": null}, "y": {"datum": 0.0045, "type": "quantitative"}}
        },
        {
          "data": {"values": [{}]},
          "mark": {"type": "text", "text": "=349.1/286", "font": "DejaVu Serif", "fontSize": 34, "align": "left", "baseline": "alphabetic", "color": "black"},
          "encoding": {"x": {"datum": 742.969, "type": "quantitative", "axis": null}, "y": {"datum": 0.0045, "type": "quantitative"}}
        },
        {
          "data": {"values": [{}]},
          "mark": {"type": "text", "text": "Solution 2 w/ Ring", "font": "DejaVu Sans", "fontSize": 34.5, "align": "left", "baseline": "alphabetic", "color": "black"},
          "encoding": {"x": {"datum": 745.211, "type": "quantitative", "axis": null}, "y": {"datum": 0.0049, "type": "quantitative"}}
        }
      ]
    }
  ]
}
